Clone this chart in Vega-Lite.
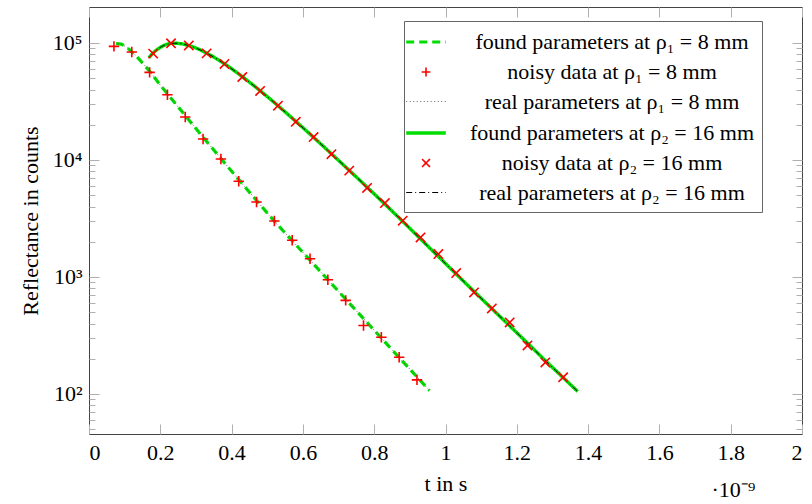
{
  "$schema": "https://vega.github.io/schema/vega-lite/v6.json",
  "autosize": "none",
  "width": 713,
  "height": 427,
  "padding": {"left": 89, "top": 7, "right": 10, "bottom": 70},
  "background": "white",
  "title": {"text": "·10⁻⁹", "orient": "bottom", "anchor": "end", "font": "Liberation Serif", "fontSize": 22, "fontWeight": "normal", "color": "black", "dx": -47, "offset": -14},
  "datasets": {
    "curves": [
      {"s": "found parameters at ρ₁ = 8 mm", "t": 0.076, "r": 98860},
      {"s": "found parameters at ρ₁ = 8 mm", "t": 0.09, "r": 97720},
      {"s": "found parameters at ρ₁ = 8 mm", "t": 0.10, "r": 94410},
      {"s": "found parameters at ρ₁ = 8 mm", "t": 0.12, "r": 84140},
      {"s": "found parameters at ρ₁ = 8 mm", "t": 0.15, "r": 67610},
      {"s": "found parameters at ρ₁ = 8 mm", "t": 0.17, "r": 57280},
      {"s": "found parameters at ρ₁ = 8 mm", "t": 0.20, "r": 43650},
      {"s": "found parameters at ρ₁ = 8 mm", "t": 0.22, "r": 36730},
      {"s": "found parameters at ρ₁ = 8 mm", "t": 0.27, "r": 23990},
      {"s": "found parameters at ρ₁ = 8 mm", "t": 0.32, "r": 15670},
      {"s": "found parameters at ρ₁ = 8 mm", "t": 0.37, "r": 10300},
      {"s": "found parameters at ρ₁ = 8 mm", "t": 0.42, "r": 6792},
      {"s": "found parameters at ρ₁ = 8 mm", "t": 0.47, "r": 4508},
      {"s": "found parameters at ρ₁ = 8 mm", "t": 0.52, "r": 2999},
      {"s": "found parameters at ρ₁ = 8 mm", "t": 0.57, "r": 2042},
      {"s": "found parameters at ρ₁ = 8 mm", "t": 0.62, "r": 1393},
      {"s": "found parameters at ρ₁ = 8 mm", "t": 0.67, "r": 948},
      {"s": "found parameters at ρ₁ = 8 mm", "t": 0.72, "r": 646},
      {"s": "found parameters at ρ₁ = 8 mm", "t": 0.77, "r": 441},
      {"s": "found parameters at ρ₁ = 8 mm", "t": 0.82, "r": 301},
      {"s": "found parameters at ρ₁ = 8 mm", "t": 0.87, "r": 205},
      {"s": "found parameters at ρ₁ = 8 mm", "t": 0.92, "r": 140},
      {"s": "found parameters at ρ₁ = 8 mm", "t": 0.955, "r": 107},
      {"s": "found parameters at ρ₂ = 16 mm", "t": 0.168, "r": 75000},
      {"s": "found parameters at ρ₂ = 16 mm", "t": 0.18, "r": 82200},
      {"s": "found parameters at ρ₂ = 16 mm", "t": 0.20, "r": 91620},
      {"s": "found parameters at ρ₂ = 16 mm", "t": 0.22, "r": 97720},
      {"s": "found parameters at ρ₂ = 16 mm", "t": 0.24, "r": 99540},
      {"s": "found parameters at ρ₂ = 16 mm", "t": 0.26, "r": 98400},
      {"s": "found parameters at ρ₂ = 16 mm", "t": 0.28, "r": 95060},
      {"s": "found parameters at ρ₂ = 16 mm", "t": 0.30, "r": 90570},
      {"s": "found parameters at ρ₂ = 16 mm", "t": 0.33, "r": 81850},
      {"s": "found parameters at ρ₂ = 16 mm", "t": 0.38, "r": 66370},
      {"s": "found parameters at ρ₂ = 16 mm", "t": 0.43, "r": 51520},
      {"s": "found parameters at ρ₂ = 16 mm", "t": 0.48, "r": 39080},
      {"s": "found parameters at ρ₂ = 16 mm", "t": 0.53, "r": 29110},
      {"s": "found parameters at ρ₂ = 16 mm", "t": 0.58, "r": 21380},
      {"s": "found parameters at ρ₂ = 16 mm", "t": 0.63, "r": 15600},
      {"s": "found parameters at ρ₂ = 16 mm", "t": 0.68, "r": 11300},
      {"s": "found parameters at ρ₂ = 16 mm", "t": 0.73, "r": 8147},
      {"s": "found parameters at ρ₂ = 16 mm", "t": 0.78, "r": 5861},
      {"s": "found parameters at ρ₂ = 16 mm", "t": 0.83, "r": 4188},
      {"s": "found parameters at ρ₂ = 16 mm", "t": 0.88, "r": 2985},
      {"s": "found parameters at ρ₂ = 16 mm", "t": 0.93, "r": 2113},
      {"s": "found parameters at ρ₂ = 16 mm", "t": 0.98, "r": 1496},
      {"s": "found parameters at ρ₂ = 16 mm", "t": 1.03, "r": 1059},
      {"s": "found parameters at ρ₂ = 16 mm", "t": 1.08, "r": 753},
      {"s": "found parameters at ρ₂ = 16 mm", "t": 1.13, "r": 536},
      {"s": "found parameters at ρ₂ = 16 mm", "t": 1.18, "r": 382},
      {"s": "found parameters at ρ₂ = 16 mm", "t": 1.23, "r": 272},
      {"s": "found parameters at ρ₂ = 16 mm", "t": 1.28, "r": 193},
      {"s": "found parameters at ρ₂ = 16 mm", "t": 1.33, "r": 138},
      {"s": "found parameters at ρ₂ = 16 mm", "t": 1.371, "r": 105}
    ],
    "real": [
      {"s": "real parameters at ρ₁ = 8 mm", "t": 0.08, "r": 98700},
      {"s": "real parameters at ρ₁ = 8 mm", "t": 0.09, "r": 97720},
      {"s": "real parameters at ρ₁ = 8 mm", "t": 0.10, "r": 94410},
      {"s": "real parameters at ρ₁ = 8 mm", "t": 0.12, "r": 84140},
      {"s": "real parameters at ρ₁ = 8 mm", "t": 0.15, "r": 67610},
      {"s": "real parameters at ρ₁ = 8 mm", "t": 0.17, "r": 57280},
      {"s": "real parameters at ρ₁ = 8 mm", "t": 0.20, "r": 43650},
      {"s": "real parameters at ρ₁ = 8 mm", "t": 0.22, "r": 36730},
      {"s": "real parameters at ρ₁ = 8 mm", "t": 0.27, "r": 23990},
      {"s": "real parameters at ρ₁ = 8 mm", "t": 0.32, "r": 15670},
      {"s": "real parameters at ρ₁ = 8 mm", "t": 0.37, "r": 10300},
      {"s": "real parameters at ρ₁ = 8 mm", "t": 0.42, "r": 6792},
      {"s": "real parameters at ρ₁ = 8 mm", "t": 0.47, "r": 4508},
      {"s": "real parameters at ρ₁ = 8 mm", "t": 0.52, "r": 2999},
      {"s": "real parameters at ρ₁ = 8 mm", "t": 0.57, "r": 2042},
      {"s": "real parameters at ρ₁ = 8 mm", "t": 0.62, "r": 1393},
      {"s": "real parameters at ρ₁ = 8 mm", "t": 0.67, "r": 948},
      {"s": "real parameters at ρ₁ = 8 mm", "t": 0.72, "r": 646},
      {"s": "real parameters at ρ₁ = 8 mm", "t": 0.77, "r": 441},
      {"s": "real parameters at ρ₁ = 8 mm", "t": 0.82, "r": 301},
      {"s": "real parameters at ρ₁ = 8 mm", "t": 0.87, "r": 205},
      {"s": "real parameters at ρ₁ = 8 mm", "t": 0.92, "r": 140},
      {"s": "real parameters at ρ₁ = 8 mm", "t": 0.955, "r": 107},
      {"s": "real parameters at ρ₂ = 16 mm", "t": 0.17, "r": 76500},
      {"s": "real parameters at ρ₂ = 16 mm", "t": 0.18, "r": 82200},
      {"s": "real parameters at ρ₂ = 16 mm", "t": 0.20, "r": 91620},
      {"s": "real parameters at ρ₂ = 16 mm", "t": 0.22, "r": 97720},
      {"s": "real parameters at ρ₂ = 16 mm", "t": 0.24, "r": 99540},
      {"s": "real parameters at ρ₂ = 16 mm", "t": 0.26, "r": 98400},
      {"s": "real parameters at ρ₂ = 16 mm", "t": 0.28, "r": 95060},
      {"s": "real parameters at ρ₂ = 16 mm", "t": 0.30, "r": 90570},
      {"s": "real parameters at ρ₂ = 16 mm", "t": 0.33, "r": 81850},
      {"s": "real parameters at ρ₂ = 16 mm", "t": 0.38, "r": 66370},
      {"s": "real parameters at ρ₂ = 16 mm", "t": 0.43, "r": 51520},
      {"s": "real parameters at ρ₂ = 16 mm", "t": 0.48, "r": 39080},
      {"s": "real parameters at ρ₂ = 16 mm", "t": 0.53, "r": 29110},
      {"s": "real parameters at ρ₂ = 16 mm", "t": 0.58, "r": 21380},
      {"s": "real parameters at ρ₂ = 16 mm", "t": 0.63, "r": 15600},
      {"s": "real parameters at ρ₂ = 16 mm", "t": 0.68, "r": 11300},
      {"s": "real parameters at ρ₂ = 16 mm", "t": 0.73, "r": 8147},
      {"s": "real parameters at ρ₂ = 16 mm", "t": 0.78, "r": 5861},
      {"s": "real parameters at ρ₂ = 16 mm", "t": 0.83, "r": 4188},
      {"s": "real parameters at ρ₂ = 16 mm", "t": 0.88, "r": 2985},
      {"s": "real parameters at ρ₂ = 16 mm", "t": 0.93, "r": 2113},
      {"s": "real parameters at ρ₂ = 16 mm", "t": 0.98, "r": 1496},
      {"s": "real parameters at ρ₂ = 16 mm", "t": 1.03, "r": 1059},
      {"s": "real parameters at ρ₂ = 16 mm", "t": 1.08, "r": 753},
      {"s": "real parameters at ρ₂ = 16 mm", "t": 1.13, "r": 536},
      {"s": "real parameters at ρ₂ = 16 mm", "t": 1.18, "r": 382},
      {"s": "real parameters at ρ₂ = 16 mm", "t": 1.23, "r": 272},
      {"s": "real parameters at ρ₂ = 16 mm", "t": 1.28, "r": 193},
      {"s": "real parameters at ρ₂ = 16 mm", "t": 1.33, "r": 138},
      {"s": "real parameters at ρ₂ = 16 mm", "t": 1.371, "r": 105}
    ],
    "noisy1": [
      {"s": "noisy data at ρ₁ = 8 mm", "t": 0.07, "r": 93500},
      {"s": "noisy data at ρ₁ = 8 mm", "t": 0.12, "r": 83800},
      {"s": "noisy data at ρ₁ = 8 mm", "t": 0.17, "r": 56100},
      {"s": "noisy data at ρ₁ = 8 mm", "t": 0.22, "r": 36100},
      {"s": "noisy data at ρ₁ = 8 mm", "t": 0.27, "r": 23300},
      {"s": "noisy data at ρ₁ = 8 mm", "t": 0.32, "r": 15100},
      {"s": "noisy data at ρ₁ = 8 mm", "t": 0.37, "r": 10200},
      {"s": "noisy data at ρ₁ = 8 mm", "t": 0.42, "r": 6580},
      {"s": "noisy data at ρ₁ = 8 mm", "t": 0.47, "r": 4370},
      {"s": "noisy data at ρ₁ = 8 mm", "t": 0.52, "r": 3010},
      {"s": "noisy data at ρ₁ = 8 mm", "t": 0.57, "r": 2060},
      {"s": "noisy data at ρ₁ = 8 mm", "t": 0.62, "r": 1430},
      {"s": "noisy data at ρ₁ = 8 mm", "t": 0.67, "r": 948},
      {"s": "noisy data at ρ₁ = 8 mm", "t": 0.72, "r": 631},
      {"s": "noisy data at ρ₁ = 8 mm", "t": 0.77, "r": 385},
      {"s": "noisy data at ρ₁ = 8 mm", "t": 0.82, "r": 305},
      {"s": "noisy data at ρ₁ = 8 mm", "t": 0.87, "r": 206},
      {"s": "noisy data at ρ₁ = 8 mm", "t": 0.92, "r": 132}
    ],
    "noisy2": [
      {"s": "noisy data at ρ₂ = 16 mm", "t": 0.18, "r": 81100},
      {"s": "noisy data at ρ₂ = 16 mm", "t": 0.23, "r": 99300},
      {"s": "noisy data at ρ₂ = 16 mm", "t": 0.28, "r": 95300},
      {"s": "noisy data at ρ₂ = 16 mm", "t": 0.33, "r": 81500},
      {"s": "noisy data at ρ₂ = 16 mm", "t": 0.38, "r": 66200},
      {"s": "noisy data at ρ₂ = 16 mm", "t": 0.43, "r": 51200},
      {"s": "noisy data at ρ₂ = 16 mm", "t": 0.48, "r": 38900},
      {"s": "noisy data at ρ₂ = 16 mm", "t": 0.53, "r": 29100},
      {"s": "noisy data at ρ₂ = 16 mm", "t": 0.58, "r": 21200},
      {"s": "noisy data at ρ₂ = 16 mm", "t": 0.63, "r": 15700},
      {"s": "noisy data at ρ₂ = 16 mm", "t": 0.68, "r": 11200},
      {"s": "noisy data at ρ₂ = 16 mm", "t": 0.73, "r": 8110},
      {"s": "noisy data at ρ₂ = 16 mm", "t": 0.78, "r": 5770},
      {"s": "noisy data at ρ₂ = 16 mm", "t": 0.83, "r": 4280},
      {"s": "noisy data at ρ₂ = 16 mm", "t": 0.88, "r": 3030},
      {"s": "noisy data at ρ₂ = 16 mm", "t": 0.93, "r": 2180},
      {"s": "noisy data at ρ₂ = 16 mm", "t": 0.98, "r": 1570},
      {"s": "noisy data at ρ₂ = 16 mm", "t": 1.03, "r": 1080},
      {"s": "noisy data at ρ₂ = 16 mm", "t": 1.08, "r": 738},
      {"s": "noisy data at ρ₂ = 16 mm", "t": 1.13, "r": 539},
      {"s": "noisy data at ρ₂ = 16 mm", "t": 1.18, "r": 409},
      {"s": "noisy data at ρ₂ = 16 mm", "t": 1.23, "r": 260},
      {"s": "noisy data at ρ₂ = 16 mm", "t": 1.28, "r": 186},
      {"s": "noisy data at ρ₂ = 16 mm", "t": 1.33, "r": 139}
    ]
  },
  "encoding": {
    "x": {"field": "t", "type": "quantitative", "scale": {"domain": [0, 2], "nice": false, "zero": false}},
    "y": {"field": "r", "type": "quantitative", "scale": {"type": "log", "domain": [45.5, 203000], "nice": false}},
    "color": {"field": "s", "type": "nominal", "scale": {
      "domain": ["found parameters at ρ₁ = 8 mm", "noisy data at ρ₁ = 8 mm", "real parameters at ρ₁ = 8 mm", "found parameters at ρ₂ = 16 mm", "noisy data at ρ₂ = 16 mm", "real parameters at ρ₂ = 16 mm"],
      "range": ["#00dd00", "#ff0000", "#555555", "#00dd00", "#ff0000", "#000000"]},
      "legend": {"title": null}},
    "strokeWidth": {"field": "s", "type": "nominal", "scale": {
      "type": "ordinal",
      "domain": ["found parameters at ρ₁ = 8 mm", "noisy data at ρ₁ = 8 mm", "real parameters at ρ₁ = 8 mm", "found parameters at ρ₂ = 16 mm", "noisy data at ρ₂ = 16 mm", "real parameters at ρ₂ = 16 mm"],
      "range": [3.2, 1.6, 0.9, 3.4, 1.6, 1]},
      "legend": {"title": null}}
  },
  "layer": [
    {
      "data": {"name": "curves"},
      "mark": {"type": "line", "interpolate": "monotone", "clip": true},
      "encoding": {
        "x": {"field": "t", "type": "quantitative", "axis": {"orient": "bottom", "values": [0, 0.2, 0.4, 0.6, 0.8, 1, 1.2, 1.4, 1.6, 1.8, 2], "tickSize": -10, "labelPadding": 18, "labelExpr": "format(datum.value, '~g')", "title": "t in s", "titlePadding": 10}},
        "y": {"field": "r", "type": "quantitative", "axis": {"orient": "left", "values": [100, 1000, 10000, 100000], "tickSize": -10, "labelPadding": 17, "labelExpr": "datum.value == 100 ? '10²' : datum.value == 1000 ? '10³' : datum.value == 10000 ? '10⁴' : '10⁵'", "title": "Reflectance in counts", "titlePadding": 10}},
        "strokeDash": {"field": "s", "type": "nominal", "scale": {
          "domain": ["found parameters at ρ₁ = 8 mm", "noisy data at ρ₁ = 8 mm", "real parameters at ρ₁ = 8 mm", "found parameters at ρ₂ = 16 mm", "noisy data at ρ₂ = 16 mm", "real parameters at ρ₂ = 16 mm"],
          "range": [[8, 5], [1, 0], [1, 2.5], [1, 0], [1, 0], [6, 3, 1, 3]]},
          "legend": {"title": null}}
      }
    },
    {
      "data": {"name": "real"},
      "mark": {"type": "line", "interpolate": "monotone", "clip": true},
      "encoding": {
        "x": {"field": "t", "type": "quantitative", "axis": {"orient": "top", "values": [0, 0.2, 0.4, 0.6, 0.8, 1, 1.2, 1.4, 1.6, 1.8, 2], "tickSize": -10, "labels": false, "title": null}},
        "y": {"field": "r", "type": "quantitative", "axis": {"orient": "right", "values": [100, 1000, 10000, 100000], "tickSize": -10, "labels": false, "title": null}},
        "strokeDash": {"field": "s", "type": "nominal", "scale": {
          "domain": ["found parameters at ρ₁ = 8 mm", "noisy data at ρ₁ = 8 mm", "real parameters at ρ₁ = 8 mm", "found parameters at ρ₂ = 16 mm", "noisy data at ρ₂ = 16 mm", "real parameters at ρ₂ = 16 mm"],
          "range": [[8, 5], [1, 0], [1, 2.5], [1, 0], [1, 0], [6, 3, 1, 3]]},
          "legend": {"title": null}}
      }
    },
    {
      "data": {"name": "noisy1"},
      "mark": {"type": "point", "filled": false, "size": 676, "opacity": 1},
      "encoding": {
        "x": {"field": "t", "type": "quantitative", "axis": null},
        "y": {"field": "r", "type": "quantitative", "axis": {"orient": "left", "values": [50, 60, 70, 80, 90, 200, 300, 400, 500, 600, 700, 800, 900, 2000, 3000, 4000, 5000, 6000, 7000, 8000, 9000, 20000, 30000, 40000, 50000, 60000, 70000, 80000, 90000], "tickSize": -6, "labels": false, "title": null}},
        "shape": {"field": "s", "type": "nominal", "scale": {
          "domain": ["found parameters at ρ₁ = 8 mm", "noisy data at ρ₁ = 8 mm", "real parameters at ρ₁ = 8 mm", "found parameters at ρ₂ = 16 mm", "noisy data at ρ₂ = 16 mm", "real parameters at ρ₂ = 16 mm"],
          "range": ["M-1.8,0L1.8,0", "M-0.4,0L0.4,0M0,-0.4L0,0.4", "M-1.8,0L1.8,0", "M-1.8,0L1.8,0", "M-0.36,-0.36L0.36,0.36M-0.36,0.36L0.36,-0.36", "M-1.8,0L1.8,0"]},
          "legend": {"title": null}}
      }
    },
    {
      "data": {"name": "noisy2"},
      "mark": {"type": "point", "filled": false, "size": 676, "opacity": 1},
      "encoding": {
        "x": {"field": "t", "type": "quantitative", "axis": null},
        "y": {"field": "r", "type": "quantitative", "axis": {"orient": "right", "values": [50, 60, 70, 80, 90, 200, 300, 400, 500, 600, 700, 800, 900, 2000, 3000, 4000, 5000, 6000, 7000, 8000, 9000, 20000, 30000, 40000, 50000, 60000, 70000, 80000, 90000], "tickSize": -6, "labels": false, "title": null}},
        "shape": {"field": "s", "type": "nominal", "scale": {
          "domain": ["found parameters at ρ₁ = 8 mm", "noisy data at ρ₁ = 8 mm", "real parameters at ρ₁ = 8 mm", "found parameters at ρ₂ = 16 mm", "noisy data at ρ₂ = 16 mm", "real parameters at ρ₂ = 16 mm"],
          "range": ["M-1.8,0L1.8,0", "M-0.4,0L0.4,0M0,-0.4L0,0.4", "M-1.8,0L1.8,0", "M-1.8,0L1.8,0", "M-0.36,-0.36L0.36,0.36M-0.36,0.36L0.36,-0.36", "M-1.8,0L1.8,0"]},
          "legend": {"title": null}}
      }
    }
  ],
  "resolve": {"axis": {"x": "independent", "y": "independent"}},
  "config": {
    "font": "Liberation Serif",
    "view": {"stroke": "#444444", "strokeWidth": 1},
    "axis": {
      "domain": false,
      "grid": false,
      "tickColor": "#b0b0b0",
      "tickWidth": 1,
      "labelFont": "Liberation Serif",
      "labelFontSize": 22,
      "labelColor": "#000000",
      "titleFont": "Liberation Serif",
      "titleFontSize": 22,
      "titleFontWeight": "normal",
      "titleColor": "#000000"
    },
    "legend": {
      "orient": "none",
      "legendX": 315,
      "legendY": 14,
      "padding": 8,
      "strokeColor": "#666666",
      "fillColor": "white",
      "labelFont": "Liberation Serif",
      "labelFontSize": 22,
      "labelColor": "#000000",
      "labelLimit": 500,
      "labelAlign": "center",
      "labelOffset": 173,
      "symbolSize": 484,
      "symbolOffset": 1,
      "rowPadding": 7,
      "symbolFillColor": "transparent"
    }
  }
}
